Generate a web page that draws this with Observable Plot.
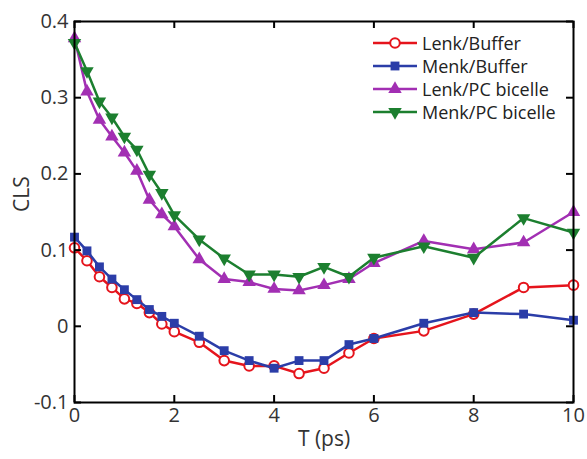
<!DOCTYPE html>
<html>
<head>
<meta charset="utf-8">
<script src="https://cdn.jsdelivr.net/npm/d3@7"></script>
<script src="https://cdn.jsdelivr.net/npm/@observablehq/plot@0.6"></script>
<style>
  html, body { margin: 0; padding: 0; background: #fff; }
  #wrap { position: relative; width: 587px; height: 459px; font-family: "Open Sans", sans-serif; }
  #legend { position: absolute; left: 373px; top: 31px; font-size: 18px; color: #222; }
  .row { display: flex; align-items: center; height: 23px; }
  .row svg { margin-right: 5px; }
</style>
</head>
<body>
<div id="wrap"><div id="legend"></div></div>
<script>
const T = [0, 0.25, 0.5, 0.75, 1, 1.25, 1.5, 1.75, 2, 2.5, 3, 3.5, 4, 4.5, 5, 5.5, 6, 7, 8, 9, 10];
const lenkBuffer = [0.103, 0.086, 0.065, 0.051, 0.036, 0.030, 0.018, 0.003, -0.007, -0.021, -0.045, -0.052, -0.052, -0.062, -0.055, -0.035, -0.016, -0.006, 0.016, 0.051, 0.054];
const menkBuffer = [0.117, 0.099, 0.078, 0.062, 0.048, 0.035, 0.022, 0.013, 0.004, -0.013, -0.032, -0.045, -0.055, -0.045, -0.045, -0.024, -0.016, 0.004, 0.018, 0.016, 0.008];
const lenkPC = [0.378, 0.308, 0.271, 0.249, 0.228, 0.204, 0.166, 0.147, 0.131, 0.088, 0.062, 0.058, 0.049, 0.047, 0.054, 0.062, 0.083, 0.112, 0.101, 0.110, 0.150];
const menkPC = [0.372, 0.335, 0.295, 0.274, 0.249, 0.232, 0.199, 0.175, 0.146, 0.114, 0.089, 0.068, 0.068, 0.065, 0.078, 0.065, 0.090, 0.105, 0.090, 0.142, 0.123];
const seriesNames = ["Lenk/Buffer", "Menk/Buffer", "Lenk/PC bicelle", "Menk/PC bicelle"];
const seriesValues = [lenkBuffer, menkBuffer, lenkPC, menkPC];
const colors = ["#e5141c", "#2b3da8", "#a22fb3", "#1c7f2f"];
const xTicks = [0, 2, 4, 6, 8, 10];
const yTicks = [-0.1, 0, 0.1, 0.2, 0.3, 0.4];

const W = 587, H = 459, mL = 74, mR = 14, mT = 21, mB = 57;
const fw = W - mL - mR, fh = H - mT - mB, tk = 7;

const styles = [
  {symbol: "circle", fill: "white", stroke: true, r: 4.8, rotate: 0},
  {symbol: "square", fill: true, stroke: false, r: 5, rotate: 0},
  {symbol: "triangle", fill: true, stroke: false, r: 5, rotate: 0},
  {symbol: "triangle", fill: true, stroke: false, r: 5, rotate: 180}
];

const marks = [];
seriesValues.forEach((vals, i) => {
  const data = T.map((t, j) => ({t, v: vals[j]}));
  marks.push(Plot.line(data, {x: "t", y: "v", stroke: colors[i], strokeWidth: 2.5}));
  const s = styles[i];
  marks.push(Plot.dot(data, {
    x: "t", y: "v", symbol: s.symbol, r: s.r, rotate: s.rotate,
    fill: s.fill === true ? colors[i] : s.fill,
    stroke: s.stroke ? colors[i] : "none",
    strokeWidth: 2
  }));
});

const chart = Plot.plot({
  width: W, height: H,
  marginLeft: mL, marginRight: mR, marginTop: mT, marginBottom: mB,
  style: {fontFamily: "Open Sans, sans-serif", fontSize: "20px", color: "#333", background: "white", overflow: "visible"},
  x: {domain: [0, 10]},
  y: {domain: [-0.1, 0.4]},
  marks: [
    ...marks,
    Plot.frame({stroke: "black", strokeWidth: 2}),
    Plot.tickX(xTicks, {x: d => d, insetTop: fh - tk, stroke: "black", strokeWidth: 2}),
    Plot.tickX(xTicks, {x: d => d, insetBottom: fh - tk, stroke: "black", strokeWidth: 2}),
    Plot.tickY(yTicks, {y: d => d, insetRight: fw - tk, stroke: "black", strokeWidth: 2}),
    Plot.tickY(yTicks, {y: d => d, insetLeft: fw - tk, stroke: "black", strokeWidth: 2}),
    Plot.axisX({ticks: xTicks, tickSize: 0, tickPadding: 5, tickFormat: d => String(d), fill: "#333", label: null, fontSize: 20}),
    Plot.axisY({ticks: yTicks, tickSize: 0, tickPadding: 6, tickFormat: d => String(d), fill: "#333", label: null, fontSize: 20}),
    Plot.text(["T (ps)"], {frameAnchor: "bottom", dy: 43, fill: "#333", fontSize: 21}),
    Plot.text(["CLS"], {frameAnchor: "left", dx: -52, rotate: -90, fill: "#333", fontSize: 21})
  ]
});
d3.select(chart).selectAll('g[aria-label$="tick label"] text').style("font-size", "20px");
document.getElementById("wrap").prepend(chart);

const legend = document.getElementById("legend");
seriesNames.forEach((name, i) => {
  const row = document.createElement("div");
  row.className = "row";
  const s = styles[i];
  const sym = d3.symbol(s.symbol === "circle" ? d3.symbolCircle : s.symbol === "square" ? d3.symbolSquare : d3.symbolTriangle, Math.PI * s.r * s.r)();
  row.innerHTML = `<svg width="44" height="20"><line x1="0" x2="44" y1="10" y2="10" stroke="${colors[i]}" stroke-width="2.5"/>` +
    `<path d="${sym}" transform="translate(22,10) rotate(${s.rotate})" fill="${s.fill === true ? colors[i] : s.fill}" stroke="${s.stroke ? colors[i] : "none"}" stroke-width="2"/></svg>` +
    `<span>${name}</span>`;
  legend.appendChild(row);
});
</script>
</body>
</html>
